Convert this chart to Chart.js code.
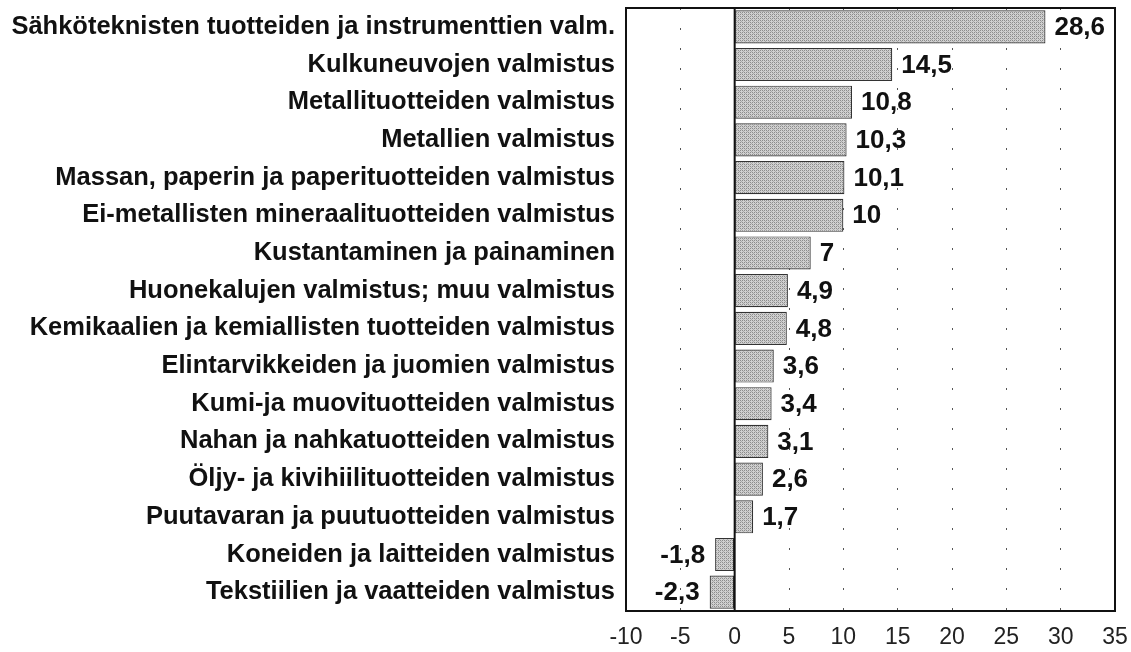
<!DOCTYPE html>
<html><head><meta charset="utf-8">
<script src="https://cdn.jsdelivr.net/npm/chart.js@4/dist/chart.umd.min.js"></script>
<style>html,body{margin:0;padding:0;background:#fff}#wrap{width:1131px;height:652px}</style>
</head><body><div id="wrap"><canvas id="c" width="1131" height="652"></canvas></div>
<script>
const categories = [
 "Sähköteknisten tuotteiden ja instrumenttien valm.",
 "Kulkuneuvojen valmistus",
 "Metallituotteiden valmistus",
 "Metallien valmistus",
 "Massan, paperin ja paperituotteiden valmistus",
 "Ei-metallisten mineraalituotteiden valmistus",
 "Kustantaminen ja painaminen",
 "Huonekalujen valmistus; muu valmistus",
 "Kemikaalien ja kemiallisten tuotteiden valmistus",
 "Elintarvikkeiden ja juomien valmistus",
 "Kumi-ja muovituotteiden valmistus",
 "Nahan ja nahkatuotteiden valmistus",
 "Öljy- ja kivihiilituotteiden valmistus",
 "Puutavaran ja puutuotteiden valmistus",
 "Koneiden ja laitteiden valmistus",
 "Tekstiilien ja vaatteiden valmistus"
];
const values = [28.6, 14.5, 10.8, 10.3, 10.1, 10, 7, 4.9, 4.8, 3.6, 3.4, 3.1, 2.6, 1.7, -1.8, -2.3];
const xTicks = [-10, -5, 0, 5, 10, 15, 20, 25, 30, 35];

const FONT = '"Liberation Sans", Arial, sans-serif';

function makePattern() {
  const p = document.createElement('canvas');
  p.width = 4; p.height = 4;
  const g = p.getContext('2d');
  g.fillStyle = '#d0d0d0'; g.fillRect(0,0,4,4);
  g.fillStyle = '#8c8c8c';
  g.fillRect(0,0,1,1); g.fillRect(2,2,1,1); g.fillRect(2,0,1,1); g.fillRect(0,2,1,1);
  g.fillStyle = '#ababab';
  g.fillRect(1,1,1,1); g.fillRect(3,3,1,1);
  return document.getElementById('c').getContext('2d').createPattern(p, 'repeat');
}

const valueLabels = {
  id: 'valueLabels',
  afterDatasetsDraw(chart) {
    const ctx = chart.ctx;
    const meta = chart.getDatasetMeta(0);
    ctx.save();
    ctx.font = 'bold 26px ' + FONT;
    ctx.fillStyle = '#111';
    ctx.textBaseline = 'middle';
    meta.data.forEach((bar, i) => {
      const v = values[i];
      const txt = String(v).replace('.', ',');
      if (v >= 0) { ctx.textAlign = 'left'; ctx.fillText(txt, bar.x + 9, bar.y + 1); }
      else { ctx.textAlign = 'right'; ctx.fillText(txt, bar.x - 10, bar.y + 1); }
    });
    ctx.restore();
  }
};

const frame = {
  id: 'frame',
  afterDraw(chart) {
    const a = chart.chartArea, ctx = chart.ctx;
    ctx.save();
    ctx.strokeStyle = '#111'; ctx.lineWidth = 2;
    ctx.strokeRect(a.left, a.top, a.right - a.left, a.bottom - a.top);
    const x0 = chart.scales.x.getPixelForValue(0);
    ctx.beginPath(); ctx.moveTo(x0, a.top); ctx.lineTo(x0, a.bottom); ctx.stroke();
    ctx.restore();
  }
};

new Chart(document.getElementById('c'), {
  type: 'bar',
  data: {
    labels: categories,
    datasets: [{
      data: values,
      backgroundColor: makePattern(),
      borderColor: '#333',
      borderWidth: 1.2,
      borderSkipped: false,
      barPercentage: 0.88,
      categoryPercentage: 1.0
    }]
  },
  options: {
    indexAxis: 'y',
    responsive: false,
    animation: false,
    layout: { padding: { top: 8, right: 16, left: 0, bottom: 0 } },
    plugins: { legend: { display: false }, tooltip: { enabled: false } },
    scales: {
      x: {
        min: -10, max: 35,
        afterBuildTicks(s) { s.ticks = xTicks.map(v => ({ value: v })); },
        afterFit(s) { s.height = 41; s.paddingLeft = 0; s.paddingRight = 0; },
        ticks: { font: { family: FONT, size: 23 }, color: '#222', padding: 13, maxRotation: 0 },
        grid: {
          drawTicks: false,
          color: '#555',
          lineWidth: 1
        },
        border: { display: false, dash: [2, 18] }
      },
      y: {
        afterFit(s) { s.width = 626; s.paddingTop = 0; s.paddingBottom = 0; },
        ticks: { font: { family: FONT, size: 25.5, weight: 'bold' }, color: '#111', padding: 11 },
        grid: { display: false, drawTicks: false },
        border: { display: false }
      }
    }
  },
  plugins: [valueLabels, frame]
});
</script>
</body></html>
